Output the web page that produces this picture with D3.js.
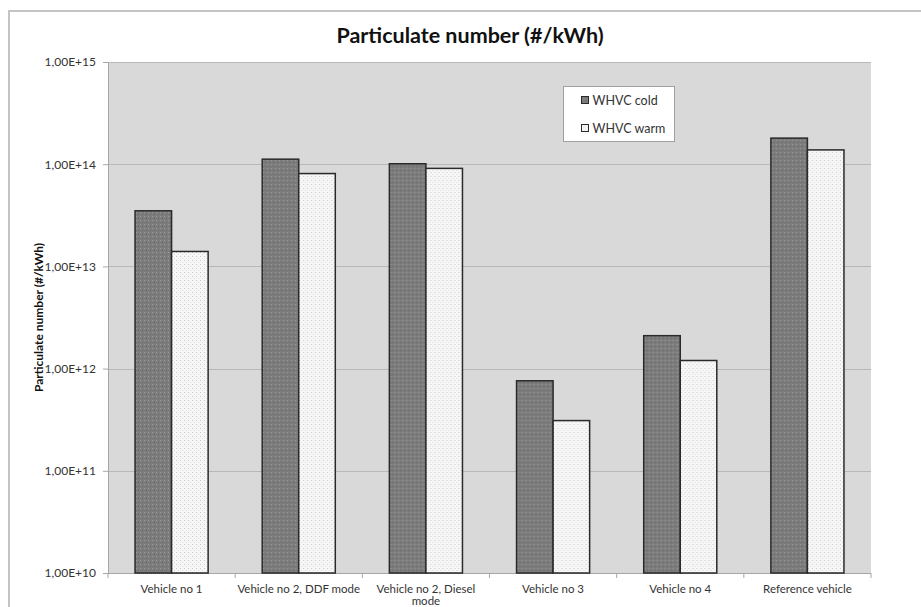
<!DOCTYPE html>
<html>
<head>
<meta charset="utf-8">
<script src="https://cdn.jsdelivr.net/npm/d3@7/dist/d3.min.js"></script>
<style>
  html, body { margin: 0; padding: 0; background: #ffffff; }
  svg { display: block; }
  text { font-family: Lato, "Open Sans", "DejaVu Sans", sans-serif; }
</style>
</head>
<body>
<svg id="chart" width="921" height="607"></svg>
<script>
// Particle number emissions per vehicle, WHVC cold and warm start
const categories = [
  "Vehicle no 1",
  "Vehicle no 2, DDF mode",
  "Vehicle no 2, Diesel mode",
  "Vehicle no 3",
  "Vehicle no 4",
  "Reference vehicle"
];
const seriesNames = ["WHVC cold", "WHVC warm"];
const whvcCold = [3.5e13, 1.12e14, 1.01e14, 7.6e11, 2.1e12, 1.8e14];
const whvcWarm = [1.4e13, 8.1e13, 9.1e13, 3.1e11, 1.2e12, 1.38e14];
const yTicks = [1e10, 1e11, 1e12, 1e13, 1e14, 1e15];

const svg = d3.select("#chart");
const plot = { left: 108, right: 871, top: 62, bottom: 573 };

// Dot patterns for the two series
const defs = svg.append("defs");
const pCold = defs.append("pattern").attr("id", "patCold")
  .attr("patternUnits", "userSpaceOnUse").attr("width", 4).attr("height", 4);
pCold.append("rect").attr("width", 4).attr("height", 4).attr("fill", "#7c7c7c");
pCold.append("rect").attr("x", 0).attr("y", 0).attr("width", 1).attr("height", 1).attr("fill", "#9c9c9c");
pCold.append("rect").attr("x", 2).attr("y", 2).attr("width", 1).attr("height", 1).attr("fill", "#666666");

const pWarm = defs.append("pattern").attr("id", "patWarm")
  .attr("patternUnits", "userSpaceOnUse").attr("width", 4).attr("height", 4);
pWarm.append("rect").attr("width", 4).attr("height", 4).attr("fill", "#f7f7f7");
pWarm.append("rect").attr("x", 0).attr("y", 0).attr("width", 1).attr("height", 1).attr("fill", "#c6c6c6");
pWarm.append("rect").attr("x", 2).attr("y", 2).attr("width", 1).attr("height", 1).attr("fill", "#dadada");

// Outer chart frame
svg.append("path")
  .attr("d", "M9,607 L9,11 L921,11")
  .attr("fill", "none").attr("stroke", "#c4c4c4").attr("stroke-width", 2);

// Scales
const x = d3.scaleBand().domain(categories).range([plot.left, plot.right]).padding(0);
const xs = d3.scaleBand().domain(seriesNames).range([0, x.bandwidth()])
  .paddingInner(0).paddingOuter(0.74);
const y = d3.scaleLog().domain([1e10, 1e15]).range([plot.bottom, plot.top]);

// Plot background
svg.append("rect")
  .attr("x", plot.left).attr("y", plot.top)
  .attr("width", plot.right - plot.left).attr("height", plot.bottom - plot.top)
  .attr("fill", "#d9d9d9");

// Gridlines
svg.append("g").selectAll("line").data(yTicks.slice(1)).join("line")
  .attr("x1", plot.left).attr("x2", plot.right)
  .attr("y1", d => Math.round(y(d)) + 0.5).attr("y2", d => Math.round(y(d)) + 0.5)
  .attr("stroke", "#b8b8b8").attr("stroke-width", 1.2);

// Y axis
const fmt = d => "1,00E+" + Math.round(Math.log10(d));
const yAxis = svg.append("g").attr("transform", `translate(${plot.left},0)`)
  .call(d3.axisLeft(y).tickValues(yTicks).tickFormat(fmt).tickSizeInner(5).tickSizeOuter(0).tickPadding(7));
yAxis.select(".domain").attr("stroke", "#a6a6a6");
yAxis.selectAll(".tick line").attr("stroke", "#a6a6a6");
yAxis.selectAll(".tick text").attr("fill", "#333").attr("font-size", 12)
  .attr("font-family", "Lato, sans-serif");

// X axis
const xAxisG = svg.append("g").attr("transform", `translate(0,${plot.bottom})`);
xAxisG.append("line").attr("x1", plot.left).attr("x2", plot.right)
  .attr("y1", 0.5).attr("y2", 0.5).attr("stroke", "#a6a6a6");
const bounds = categories.map(c => x(c)).concat([plot.right]);
xAxisG.selectAll("line.tk").data(bounds).join("line").attr("class", "tk")
  .attr("x1", d => d).attr("x2", d => d).attr("y1", 0).attr("y2", 5)
  .attr("stroke", "#a6a6a6");

// Category labels (wrapped when wider than the band)
const labelLines = {
  "Vehicle no 2, Diesel mode": ["Vehicle no 2, Diesel", "mode"]
};
categories.forEach(c => {
  const lines = labelLines[c] || [c];
  const t = xAxisG.append("text")
    .attr("x", x(c) + x.bandwidth() / 2).attr("y", 20)
    .attr("text-anchor", "middle").attr("fill", "#333").attr("font-size", 11.5);
  lines.forEach((l, i) => {
    t.append("tspan").attr("x", x(c) + x.bandwidth() / 2).attr("dy", i === 0 ? 0 : 11.5).text(l);
  });
});

// Bars
const rows = categories.map((c, i) => ({ cat: c, values: [whvcCold[i], whvcWarm[i]] }));
const fills = ["url(#patCold)", "url(#patWarm)"];
const groups = svg.append("g").selectAll("g").data(rows).join("g")
  .attr("transform", d => `translate(${x(d.cat)},0)`);
groups.selectAll("rect").data(d => d.values.map((v, i) => ({ s: seriesNames[i], v, i }))).join("rect")
  .attr("x", d => xs(d.s))
  .attr("y", d => y(d.v))
  .attr("width", xs.bandwidth())
  .attr("height", d => plot.bottom - y(d.v))
  .attr("fill", d => fills[d.i])
  .attr("stroke", "#2a2a2a").attr("stroke-width", 1.5);

// Y axis title
svg.append("text")
  .attr("transform", `translate(43,${(plot.top + plot.bottom) / 2}) rotate(-90)`)
  .attr("text-anchor", "middle").attr("font-size", 12).attr("font-weight", "bold")
  .attr("fill", "#111").text("Particulate number (#/kWh)");

// Chart title
svg.append("text")
  .attr("x", 470).attr("y", 43)
  .attr("text-anchor", "middle").attr("font-size", 21.5).attr("font-weight", "bold")
  .attr("fill", "#111").text("Particulate number (#/kWh)");

// Legend
const legend = svg.append("g").attr("transform", "translate(563.5,86.5)");
legend.append("rect").attr("width", 111).attr("height", 55)
  .attr("fill", "#ffffff").attr("stroke", "#a0a0a0").attr("stroke-width", 1);
seriesNames.forEach((s, i) => {
  const yy = 14 + i * 28;
  legend.append("rect").attr("x", 18).attr("y", yy - 4).attr("width", 7).attr("height", 7)
    .attr("fill", fills[i]).attr("stroke", "#2a2a2a").attr("stroke-width", 1);
  legend.append("text").attr("x", 29).attr("y", yy + 4.5)
    .attr("font-size", 12.5).attr("fill", "#333").text(s);
});
</script>
</body>
</html>
